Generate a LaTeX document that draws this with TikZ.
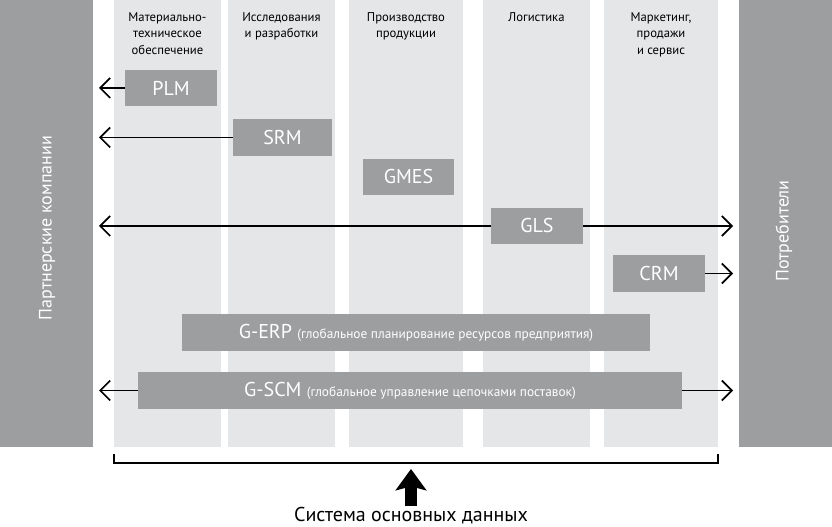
\documentclass[tikz,border=0pt]{standalone}
\usepackage{fontspec}
\setmainfont{PT Sans}
\usetikzlibrary{arrows.meta}
\usetikzlibrary{positioning}

\definecolor{bargray}{RGB}{157,158,160}
\definecolor{colgray}{RGB}{229,230,231}

\tikzset{
  sysbox/.style={fill=bargray, text=white, inner sep=0pt, minimum height=27.5pt,
    font=\fontsize{15}{17}\selectfont},
  colhead/.style={anchor=north, align=center, inner sep=0pt,
    font=\fontsize{9.5}{12.5}\selectfont},
  sidelabel/.style={rotate=90, text=white, inner sep=0pt,
    font=\fontsize{13.5}{16}\selectfont},
  flow/.style={line width=1.3pt, -{Straight Barb[length=7.5pt,width=15pt,line width=1.3pt]}}
}
\newcommand{\sysnote}[1]{{\fontsize{10}{12}\selectfont #1}}

\begin{document}
\begin{tikzpicture}[x=0.75pt, y=-0.75pt]
    \useasboundingbox (0,0) rectangle (832,527);
    % side bars
    \fill[bargray] (0,0) rectangle (93,447);
    \fill[bargray] (739,0) rectangle (832,447);
    % columns
    \fill[colgray] (114,0) rectangle (221,447);
    \fill[colgray] (228,0) rectangle (335,447);
    \fill[colgray] (349,0) rectangle (463,447);
    \fill[colgray] (483,0) rectangle (590,447);
    \fill[colgray] (604,0) rectangle (718,447);

    \node[sidelabel] (partners) at (47,228) {Партнерские компании};
    \node[sidelabel] (consumers) at (784,231) {Потребители};

    \node[colhead] (supply) at (167.5,12) {Материально-\\техническое\\обеспечение};
    \node[colhead] (rnd) at (281.5,12) {Исследования\\и разработки};
    \node[colhead] (prod) at (406,12) {Производство\\продукции};
    \node[colhead] (logist) at (536.5,12) {Логистика};
    \node[colhead] (market) at (661,12) {Маркетинг,\\продажи\\и сервис};

    \node[sysbox, minimum width=69pt] (plm) at (171,88) {PLM};
    \node[sysbox, minimum width=74.25pt] (srm) at (282.5,137.5) {SRM};
    \node[sysbox, minimum width=68.25pt] (gmes) at (408.5,177) {GMES};
    \node[sysbox, minimum width=69pt] (gls) at (537,226) {GLS};
    \node[sysbox, minimum width=69pt] (crm) at (659,273.5) {CRM};
    \node[sysbox, minimum width=351pt] (gerp) at (416,332.5)
        {G-ERP \sysnote{(глобальное планирование ресурсов предприятия)}};
    \node[sysbox, minimum width=408pt] (gscm) at (410,390.5)
        {G-SCM \sysnote{(глобальное управление цепочками поставок)}};

    \coordinate (plmL) at (99,88);
    \coordinate (srmL) at (99,137.5);
    \coordinate (glsL) at (99,226);
    \coordinate (glsR) at (733,226);
    \coordinate (crmR) at (733,273.5);
    \coordinate (gscmL) at (99,390.5);
    \coordinate (gscmR) at (733,390.5);

    \draw[flow] (plm) -- (plmL);
    \draw[flow] (srm) -- (srmL);
    \draw[flow] (gls) -- (glsL);
    \draw[flow] (gls) -- (glsR);
    \draw[flow] (crm) -- (crmR);
    \draw[flow] (gscm) -- (gscmL);
    \draw[flow] (gscm) -- (gscmR);

    % master data
    \draw[line width=1pt] (114,454) -- (114,463) -- (718,463) -- (718,454);
    \node[font=\fontsize{15}{18}\selectfont, anchor=base, inner sep=0pt] (mdm) at (411,521)
        {Система основных данных};
    \coordinate (mdmTip) at (411,469);
    \draw[line width=8.5pt, -{Stealth[length=16pt,width=23pt,inset=3pt]}] (mdm.north) -- (mdmTip);

\end{tikzpicture}
\end{document}
